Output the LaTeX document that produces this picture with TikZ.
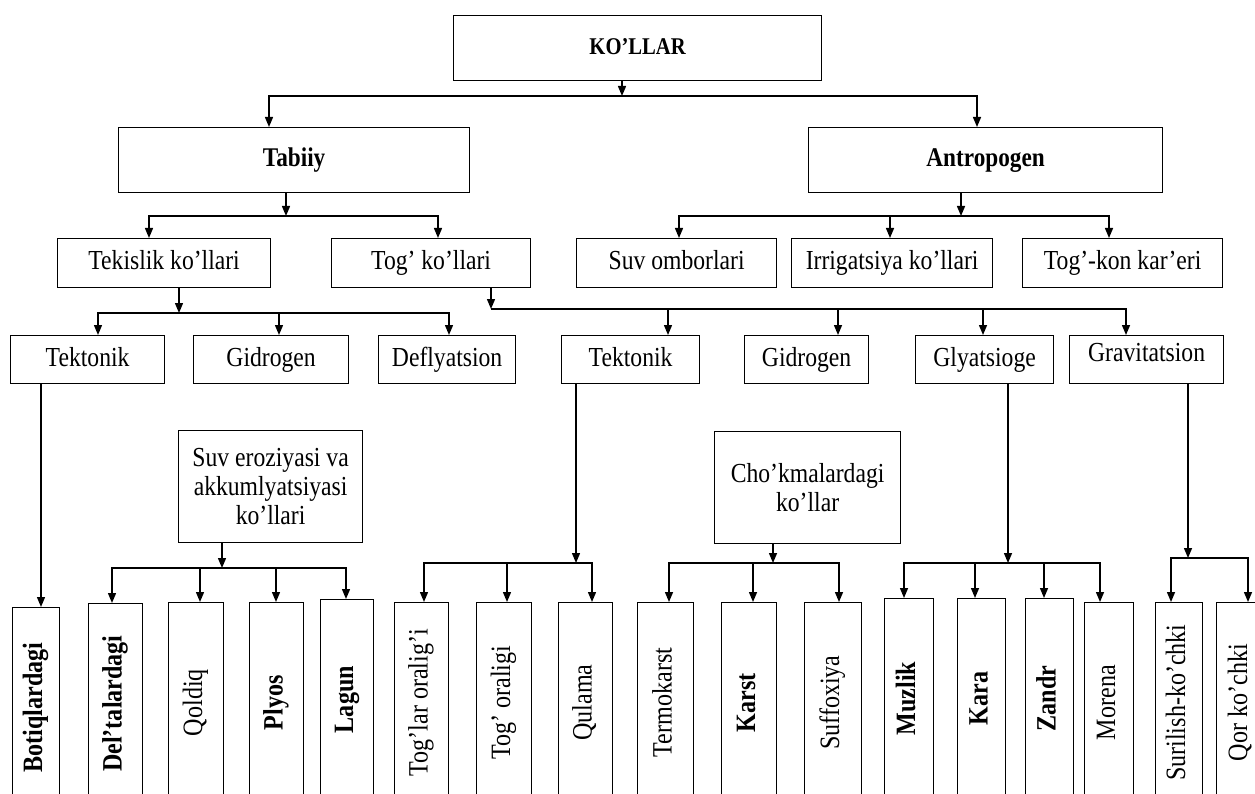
\documentclass[tikz,border=0pt]{standalone}
\usepackage{fontspec}
\setmainfont{Liberation Serif}[FakeStretch=0.86]
\usetikzlibrary{arrows.meta}

\begin{document}
\begin{tikzpicture}[
  x=1pt, y=-1pt,
  line width=1.4pt,
  box/.style={draw, line width=1.2pt, inner sep=0pt, anchor=north west,
              align=center, font=\fontsize{27.5}{29}\selectfont},
  head/.style={box, minimum height=65pt, text height=19pt, text depth=6pt,
               font=\fontsize{27}{30}\selectfont\bfseries},
  sub/.style={box, minimum height=49pt, text height=19pt, text depth=6pt},
  kind/.style={box, minimum height=48pt, text height=19pt, text depth=6pt},
  group/.style={box, minimum height=112pt},
  leaf/.style={box, minimum height=200pt, font=\fontsize{28}{30}\selectfont},
  arr/.style={-{Triangle[length=10pt,width=8pt]}},
]
\useasboundingbox (0,0) rectangle (1255,794);
\clip (0,0) rectangle (1255,794);

% ── Top levels ────────────────────────────────────────────────────────────────
\node[head, minimum width=368pt, font=\fontsize{24}{27}\selectfont\bfseries]
  (kollar) at (453,15) {KO’LLAR};
\node[head, minimum width=351pt] (tabiiy) at (118,127) {Tabiiy};
\node[head, minimum width=354pt] (antropogen) at (808,127) {Antropogen};

\node[sub, minimum width=213pt] (tekislik) at (57,238) {Tekislik ko’llari};
\node[sub, minimum width=199pt] (tog) at (331,238) {Tog’ ko’llari};
\node[sub, minimum width=200pt] (suvombor) at (576,238) {Suv omborlari};
\node[sub, minimum width=201pt] (irrigatsiya) at (791,238) {Irrigatsiya ko’llari};
\node[sub, minimum width=200pt] (togkon) at (1022,238) {Tog’-kon kar’eri};

% ── Genetic kinds ─────────────────────────────────────────────────────────────
\node[kind, minimum width=154pt] (tektonikA) at (10,335) {Tektonik};
\node[kind, minimum width=155pt] (gidrogenA) at (193,335) {Gidrogen};
\node[kind, minimum width=137pt] (deflyatsion) at (378,335) {Deflyatsion};
\node[kind, minimum width=138pt] (tektonikB) at (561,335) {Tektonik};
\node[kind, minimum width=124pt] (gidrogenB) at (744,335) {Gidrogen};
\node[kind, minimum width=138pt] (glyatsioge) at (915,335) {Glyatsioge};
\node[kind, minimum width=154pt, text height=14pt, text depth=11pt]
  (gravitatsion) at (1069,335) {Gravitatsion};

\node[group, minimum width=184pt] (suverozi) at (178,430)
  {Suv eroziyasi va\\ akkumlyatsiyasi\\ ko’llari};
\node[group, minimum width=186pt] (chokma) at (714,431)
  {Cho’kmalardagi\\ ko’llar};

% ── Lake types (vertical) ─────────────────────────────────────────────────────
\node[leaf, minimum width=47pt] (botiq) at (12,607) {\rotatebox{90}{\strut\bfseries Botiqlardagi}};
\node[leaf, minimum width=54pt] (deltalar) at (88,603) {\rotatebox{90}{\strut\bfseries Del’talardagi}};
\node[leaf, minimum width=55pt] (qoldiq) at (168,602) {\rotatebox{90}{\strut Qoldiq}};
\node[leaf, minimum width=54pt] (plyos) at (249,602) {\rotatebox{90}{\strut\bfseries Plyos}};
\node[leaf, minimum width=53pt] (lagun) at (320,599) {\rotatebox{90}{\strut\bfseries Lagun}};
\node[leaf, minimum width=54pt] (toglar) at (394,602) {\rotatebox{90}{\strut Tog’lar oralig’i}};
\node[leaf, minimum width=55pt] (togoraligi) at (476,602) {\rotatebox{90}{\strut Tog’ oraligi}};
\node[leaf, minimum width=54pt] (qulama) at (558,602) {\rotatebox{90}{\strut Qulama}};
\node[leaf, minimum width=56pt] (termokarst) at (637,602) {\rotatebox{90}{\strut Termokarst}};
\node[leaf, minimum width=55pt] (karst) at (721,602) {\rotatebox{90}{\strut\bfseries Karst}};
\node[leaf, minimum width=57pt] (suffoxiya) at (804,602) {\rotatebox{90}{\strut Suffoxiya}};
\node[leaf, minimum width=49pt] (muzlik) at (884,598) {\rotatebox{90}{\strut\bfseries Muzlik}};
\node[leaf, minimum width=48pt] (kara) at (957,598) {\rotatebox{90}{\strut\bfseries Kara}};
\node[leaf, minimum width=48pt] (zandr) at (1025,598) {\rotatebox{90}{\strut\bfseries Zandr}};
\node[leaf, minimum width=49pt] (morena) at (1084,602) {\rotatebox{90}{\strut Morena}};
\node[leaf, minimum width=47pt] (surilish) at (1155,602) {\rotatebox{90}{\strut Surilish-ko’chki}};
\node[leaf, minimum width=49pt] (qor) at (1216,602) {\rotatebox{90}{\strut Qor ko’chki}};

% ── Connectors ────────────────────────────────────────────────────────────────
\coordinate (busK) at (622,96);
\draw[arr] (kollar.south -| busK) -- (busK);
\draw[arr] (busK) -| (269,0 |- tabiiy.north);
\draw[arr] (busK) -| (977,0 |- antropogen.north);

\coordinate (busT) at (286,216);
\draw[arr] (tabiiy.south -| busT) -- (busT);
\draw[arr] (busT) -| (149,0 |- tekislik.north);
\draw[arr] (busT) -| (438,0 |- tog.north);

\coordinate (busA) at (961,216);
\draw[arr] (antropogen.south -| busA) -- (busA);
\draw[arr] (busA) -| (679,0 |- suvombor.north);
\draw[arr] (890,0 |- busA) -- (890,0 |- irrigatsiya.north);
\draw[arr] (busA) -| (1109,0 |- togkon.north);

\coordinate (busL) at (179,313);
\draw[arr] (tekislik.south -| busL) -- (busL);
\draw[arr] (busL) -| (98,0 |- tektonikA.north);
\draw[arr] (279,0 |- busL) -- (279,0 |- gidrogenA.north);
\draw[arr] (busL) -| (449,0 |- deflyatsion.north);

\coordinate (busG) at (491,309);
\draw[arr] (tog.south -| busG) -- (busG);
\draw[arr] (668,0 |- busG) -- (668,0 |- tektonikB.north);
\draw[arr] (838,0 |- busG) -- (838,0 |- gidrogenB.north);
\draw[arr] (983,0 |- busG) -- (983,0 |- glyatsioge.north);
\draw[arr] (busG) -| (1126,0 |- gravitatsion.north);

\draw[arr] (41,0 |- tektonikA.south) -- (41,0 |- botiq.north);

\coordinate (busS) at (222,568);
\draw[arr] (suverozi.south -| busS) -- (busS);
\draw[arr] (busS) -| (112,0 |- deltalar.north);
\draw[arr] (200,0 |- busS) -- (200,0 |- qoldiq.north);
\draw[arr] (276,0 |- busS) -- (276,0 |- plyos.north);
\draw[arr] (busS) -| (346,0 |- lagun.north);

\coordinate (busB) at (576,563);
\draw[arr] (tektonikB.south -| busB) -- (busB);
\draw[arr] (busB) -| (424,0 |- toglar.north);
\draw[arr] (507,0 |- busB) -- (507,0 |- togoraligi.north);
\draw[arr] (busB) -| (592,0 |- qulama.north);

\coordinate (busC) at (773,563);
\draw[arr] (chokma.south -| busC) -- (busC);
\draw[arr] (busC) -| (669,0 |- termokarst.north);
\draw[arr] (753,0 |- busC) -- (753,0 |- karst.north);
\draw[arr] (busC) -| (839,0 |- suffoxiya.north);

\coordinate (busY) at (1008,563);
\draw[arr] (glyatsioge.south -| busY) -- (busY);
\draw[arr] (busY) -| (904,0 |- muzlik.north);
\draw[arr] (975,0 |- busY) -- (975,0 |- kara.north);
\draw[arr] (1044,0 |- busY) -- (1044,0 |- zandr.north);
\draw[arr] (busY) -| (1100,0 |- morena.north);

\coordinate (busR) at (1188,558);
\draw[arr] (gravitatsion.south -| busR) -- (busR);
\draw[arr] (busR) -| (1171,0 |- surilish.north);
\draw[arr] (busR) -| (1248,0 |- qor.north);

\end{tikzpicture}
\end{document}
